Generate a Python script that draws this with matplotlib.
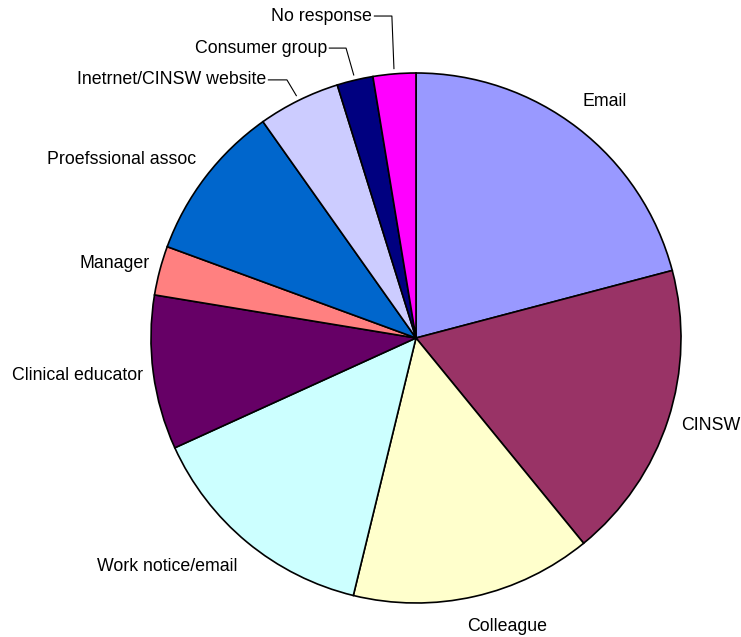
import numpy as np
import matplotlib.pyplot as plt

# sources of information (share of responses, %)
labels = ['Email', 'CINSW', 'Colleague', 'Work notice/email', 'Clinical educator',
          'Manager', 'Proefssional assoc', 'Inetrnet/CINSW website',
          'Consumer group', 'No response']
values = [20.9, 18.2, 14.7, 14.4, 9.4, 3.0, 9.6, 5.0, 2.2, 2.6]
colors = ['#9999FF', '#993366', '#FFFFCC', '#CCFFFF', '#660066',
          '#FF8080', '#0066CC', '#CCCCFF', '#000080', '#FF00FF']

plt.rcParams['font.family'] = ['Liberation Sans', 'DejaVu Sans']

W, H = 741, 637
cx, cy, r = 416, 338, 265
fig = plt.figure(figsize=(W / 100, H / 100), dpi=100)
ax = fig.add_axes([(cx - r) / W, (H - cy - r) / H, 2 * r / W, 2 * r / H])
wedges, _ = ax.pie(values, colors=colors, startangle=90, counterclock=False,
                   wedgeprops=dict(edgecolor='black', linewidth=1.2))
ax.set_xlim(-1, 1)
ax.set_ylim(-1, 1)
ax.axis('off')

fs = 12.8
# label positions in pie units: (x, y, ha)
pos = {
    'Email': (0.630, 0.891, 'left'),
    'CINSW': (1.000, -0.332, 'left'),
    'Colleague': (0.343, -1.087, 'center'),
    'Work notice/email': (-0.672, -0.864, 'right'),
    'Clinical educator': (-1.030, -0.140, 'right'),
    'Manager': (-1.004, 0.283, 'right'),
    'Proefssional assoc': (-0.830, 0.672, 'right'),
    'Inetrnet/CINSW website': (-0.565, 0.974, 'right'),
    'Consumer group': (-0.335, 1.094, 'right'),
    'No response': (-0.165, 1.215, 'right'),
}
# elbow x for leader lines
elbow = {'Inetrnet/CINSW website': -0.487, 'Consumer group': -0.264,
         'No response': -0.091}

for w, lab in zip(wedges, labels):
    x, y, ha = pos[lab]
    ax.text(x, y, lab, ha=ha, va='center', fontsize=fs, clip_on=False)
    if lab in elbow:
        mid = np.deg2rad((w.theta1 + w.theta2) / 2)
        ex, ey = 1.02 * np.cos(mid), 1.02 * np.sin(mid)
        ax.plot([x + 0.008, elbow[lab], ex], [y, y, ey], color='black',
                linewidth=0.8, clip_on=False)

fig.savefig('out.png', dpi=100)
